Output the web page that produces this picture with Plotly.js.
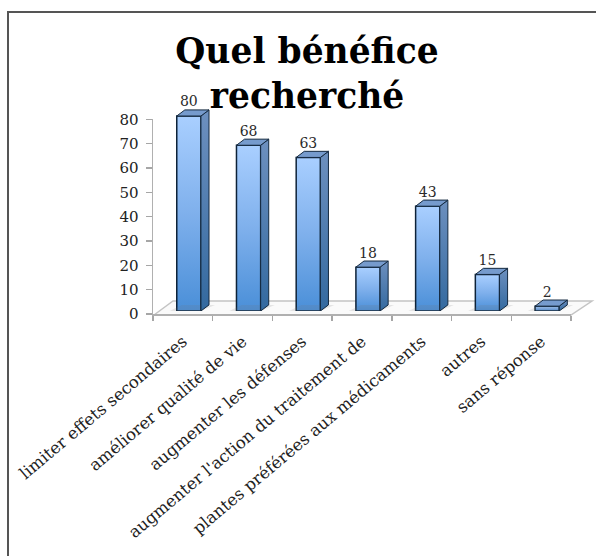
<!DOCTYPE html>
<html><head><meta charset="utf-8">
<script src="https://cdn.plot.ly/plotly-3.0.1.min.js"></script>
<style>html,body{margin:0;padding:0;background:#fff}</style></head>
<body><div id="chart" style="width:596px;height:556px"></div>
<script>
const categories = ["limiter effets secondaires","améliorer qualité de vie","augmenter les défenses","augmenter l'action du traitement de","plantes préférées aux médicaments","autres","sans réponse"];
const values = [80,68,63,18,43,15,2];
const yTicks = [0,10,20,30,40,50,60,70,80];
const titleText = "Quel bénéfice<br>recherché";

const W=596,H=556;
const px=v=>v/W, py=v=>1-v/H;
const SERIF='DejaVu Serif, serif';
const barWidth=0.405, depthX=0.135, depthY=2.5;
const idx=values.map((_,i)=>i);
const traces=[];
traces.push({type:'scatter',mode:'markers',x:categories,y:values,xaxis:'x',yaxis:'y',marker:{opacity:0,size:1},hoverinfo:'skip',showlegend:false});
values.forEach((v,i)=>{
  const l=i-barWidth/2,r=i+barWidth/2;
  traces.push({type:'scatter',mode:'lines',x:[l-0.12,r,r+depthX+0.1,l+depthX-0.05,l-0.12],y:[0,0,depthY,depthY,0],xaxis:'x2',yaxis:'y2',
    fill:'toself',fillcolor:'rgba(120,120,120,0.16)',line:{width:0},hoverinfo:'skip',showlegend:false});
});
values.forEach((v,i)=>{
  const r=i+barWidth/2;
  traces.push({type:'scatter',mode:'lines',x:[r,r+depthX,r+depthX,r,r],y:[0,depthY,v+depthY,v,0],xaxis:'x2',yaxis:'y2',
    fill:'toself',fillgradient:{type:'vertical',colorscale:[[0,'#33699f'],[1,'#6d90bf']]},
    line:{color:'#14293f',width:1},hoverinfo:'skip',showlegend:false});
});
values.forEach((v,i)=>{
  const l=i-barWidth/2,r=i+barWidth/2;
  traces.push({type:'scatter',mode:'lines',x:[l,l+depthX,r+depthX,r,l],y:[v,v+depthY,v+depthY,v,v],xaxis:'x2',yaxis:'y2',
    fill:'toself',fillcolor:'#769bcd',line:{color:'#14293f',width:1},hoverinfo:'skip',showlegend:false});
});
traces.push({type:'bar',x:idx,y:values,width:barWidth,xaxis:'x2',yaxis:'y2',marker:{color:'#6aa5e8',line:{color:'#0d2238',width:1.5}},hoverinfo:'skip',showlegend:false});
traces.push({type:'scatter',mode:'text',x:idx,y:values.map(v=>v+depthY),text:values.map(String),textposition:'top center',
  textfont:{family:SERIF,size:14,color:'#2a2a2a'},xaxis:'x2',yaxis:'y2',hoverinfo:'skip',showlegend:false});

const poly=pts=>'M'+pts.map(p=>px(p[0])+','+py(p[1])).join('L')+'Z';
const layout={
  width:W,height:H,margin:{l:0,r:0,t:0,b:0},paper_bgcolor:'#fff',plot_bgcolor:'rgba(0,0,0,0)',showlegend:false,
  title:{text:titleText,x:307/W,xanchor:'center',y:1-63/H,yanchor:'top',font:{family:'DejaVu Serif, serif',size:34.5,color:'#000',weight:700}},
  xaxis:{domain:[px(153),px(571)],type:'category',categoryorder:'array',categoryarray:categories,range:[-0.5,6.5],anchor:'y',tickson:'boundaries',
    ticks:'outside',ticklen:5,tickcolor:'#a6a6a6',tickwidth:1.5,showline:true,linecolor:'#b0b0b0',linewidth:1.5,showgrid:false,tickangle:-40,
    tickfont:{family:SERIF,size:16.5,color:'#222'},automargin:false,ticklabelstandoff:10},
  yaxis:{domain:[py(314),py(119.3)],range:[0,80],tickvals:yTicks,anchor:'x',ticks:'outside',ticklen:6,tickcolor:'#a6a6a6',tickwidth:1.5,
    showline:true,linecolor:'#b0b0b0',linewidth:1.5,showgrid:false,zeroline:false,tickfont:{family:SERIF,size:15,color:'#222'},automargin:false,ticklabelstandoff:4},
  xaxis2:{domain:[px(159),px(577)],range:[-0.5,6.5],anchor:'y2',visible:false,fixedrange:true},
  yaxis2:{domain:[py(311),py(67.25)],range:[0,100],anchor:'x2',visible:false,fixedrange:true},
  shapes:[
    {type:'path',xref:'paper',yref:'paper',layer:'below',path:poly([[154,315],[173,301],[592,301],[571,315]]),fillcolor:'#fafafa',line:{color:'#c4c4c4',width:1.5}},
    {type:'path',xref:'paper',yref:'paper',layer:'below',path:'M'+px(8)+','+py(596)+'L'+px(8)+','+py(12)+'L'+px(600)+','+py(12),line:{color:'#555',width:2}}
  ]
};
Plotly.newPlot('chart',traces,layout,{staticPlot:true,displayModeBar:false}).then(()=>{
  const svg=document.querySelector('#chart svg.main-svg');
  const ns='http://www.w3.org/2000/svg';
  let defs=svg.querySelector('defs');
  const g=document.createElementNS(ns,'linearGradient');
  g.setAttribute('id','frontGrad');g.setAttribute('x1','0');g.setAttribute('y1','0');g.setAttribute('x2','0');g.setAttribute('y2','1');
  [['0','#a9cfff'],['0.5','#7fb0ec'],['1','#4a8fd8']].forEach(s=>{const e=document.createElementNS(ns,'stop');e.setAttribute('offset',s[0]);e.setAttribute('stop-color',s[1]);g.appendChild(e);});
  defs.appendChild(g);
  document.querySelectorAll('#chart .barlayer .point path').forEach(p=>{p.style.fill='url(#frontGrad)';});
});
</script></body></html>
